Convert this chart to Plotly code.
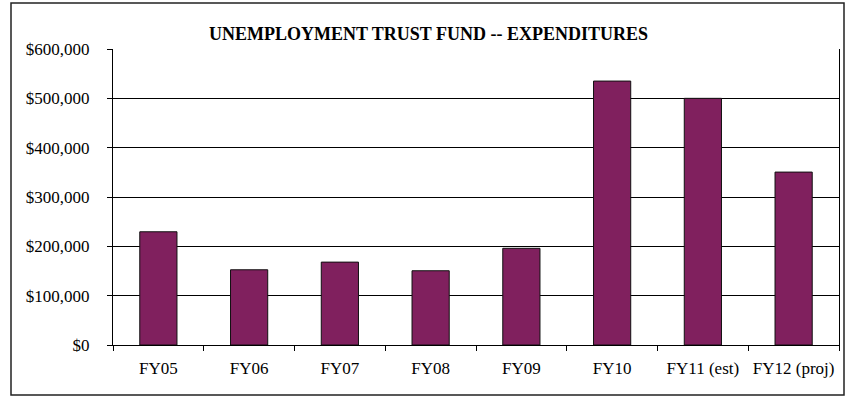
import plotly.graph_objects as go

categories = ["FY05", "FY06", "FY07", "FY08", "FY09", "FY10", "FY11 (est)", "FY12 (proj)"]
expenditures = [229500, 152500, 168000, 150500, 196000, 535000, 500000, 350500]
y_ticks = [0, 100000, 200000, 300000, 400000, 500000, 600000]
title_text = "UNEMPLOYMENT TRUST FUND -- EXPENDITURES"

FONT = "Liberation Serif"

fig = go.Figure()
fig.add_trace(go.Bar(
    x=categories, y=expenditures,
    marker=dict(color="#80205E", line=dict(color="#111111", width=1)),
    hoverinfo="x+y",
))

W, H = 845, 396
L, R, T, B = 113, 6, 49, 51
pw, ph = W - L - R, H - T - B

def px_to_paper_x(px):
    return (px - L) / pw

def px_to_paper_y(py):
    return (H - B - py) / ph

fig.update_layout(
    width=W, height=H,
    margin=dict(l=L, r=R, t=T, b=B, pad=0),
    paper_bgcolor="white", plot_bgcolor="white",
    bargap=0.59,
    showlegend=False,
    font=dict(family=FONT, size=17, color="#000000"),
    title=dict(text="<b>" + title_text + "</b>", x=428.5 / W, xref="container",
               xanchor="center", y=1 - 33.5 / H, yanchor="middle",
               font=dict(family=FONT, size=18, color="#000000")),
    xaxis=dict(
        type="category", showline=True, linecolor="#000000", linewidth=1,
        ticks="outside", tickson="boundaries", ticklen=5, tickcolor="#000000",
        showgrid=False, ticklabelstandoff=8,
        tickfont=dict(family=FONT, size=17, color="#000000"),
    ),
    yaxis=dict(
        range=[0, 600000], tickvals=y_ticks, tickformat="$,.0f",
        showline=True, linecolor="#000000", linewidth=1, mirror=True,
        ticks="outside", ticklen=5, tickcolor="#000000",
        showgrid=True, gridcolor="#000000", gridwidth=1,
        zeroline=False, ticklabelstandoff=14,
        tickfont=dict(family=FONT, size=17, color="#000000"),
    ),
    shapes=[dict(
        type="rect", xref="paper", yref="paper",
        x0=px_to_paper_x(11), x1=px_to_paper_x(844),
        y0=px_to_paper_y(395), y1=px_to_paper_y(3),
        line=dict(color="#222222", width=1.5), fillcolor="rgba(0,0,0,0)",
        layer="below",
    )],
)

fig.write_html("out.html")
